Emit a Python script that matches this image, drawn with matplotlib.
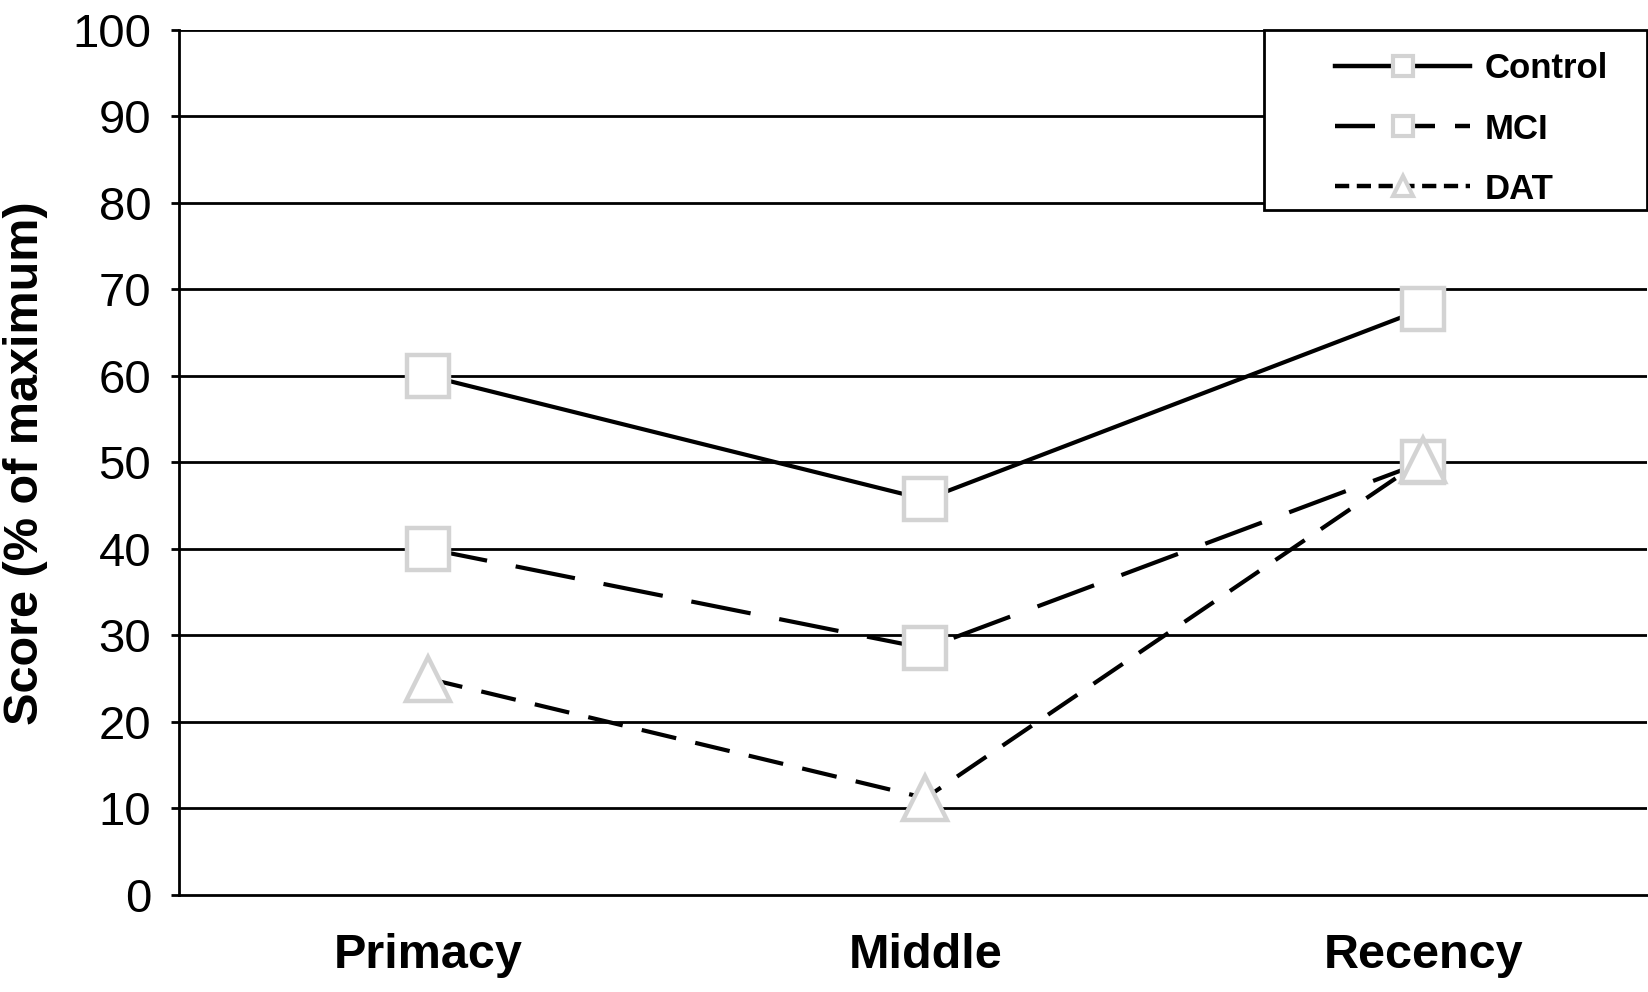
import matplotlib
matplotlib.use('Agg')
import matplotlib.pyplot as plt
from matplotlib.lines import Line2D
from matplotlib.patches import Rectangle

# ---- data ----
positions = ['Primacy', 'Middle', 'Recency']
control = [60, 45.7, 67.7]
mci = [40, 28.5, 50]
dat = [25, 11.2, 50.3]
yticks = list(range(0, 101, 10))

GREY = '#d3d3d3'
LW = 3

fig = plt.figure(figsize=(16.49, 9.92), dpi=100)
ax = fig.add_axes([179 / 1649, 97 / 992, 1468 / 1649, 865.5 / 992])

x = range(len(positions))
ax.plot(x, control, color='black', lw=LW, ls='-', zorder=3)
ax.plot(x, mci, color='black', lw=LW, ls=(0, (14.5, 7)), zorder=3)
ax.plot(x, dat, color='black', lw=LW, ls=(0, (8.5, 4.7)), zorder=3)
ax.plot(x, control, ls='none', marker='s', ms=30, mfc='white', mec=GREY, mew=3.2, zorder=4)
ax.plot(x, mci, ls='none', marker='s', ms=30, mfc='white', mec=GREY, mew=3.2, zorder=4)
ax.plot(x, dat, ls='none', marker='^', ms=31, mfc='white', mec=GREY, mew=3.2, zorder=4)

ax.set_xlim(-0.5, 2.45)
ax.set_ylim(0, 100)
ax.set_yticks(yticks)
for v in yticks[1:]:
    ax.axhline(v, color='black', lw=2, zorder=1)

ax.set_xticks(list(x))
ax.set_xticklabels(positions, fontsize=35, fontweight='bold', family='Liberation Sans')
ax.tick_params(axis='x', length=0, pad=27)
ax.tick_params(axis='y', length=6, width=2, pad=14, labelsize=34, direction='out')
for lab in ax.get_yticklabels():
    lab.set_family('Liberation Sans')

for s in ['top', 'right']:
    ax.spines[s].set_visible(False)
ax.spines['left'].set_linewidth(2)
ax.spines['bottom'].set_linewidth(2)

fig.text(26 / 1649, 0.533, 'Score (% of maximum)', rotation=90, ha='center', va='center',
         fontsize=35, fontweight='bold', family='Liberation Sans')

# legend box drawn by hand, legend itself frameless
ax.add_patch(Rectangle((0.739, 0.791), 0.261, 0.209, transform=ax.transAxes,
                       facecolor='white', edgecolor='black', lw=2, zorder=5, clip_on=False))
handles = [
    Line2D([], [], color='black', lw=3.2, ls='-', marker='s', ms=14, mfc='white', mec=GREY, mew=3),
    Line2D([], [], color='black', lw=3.2, ls=(0, (9, 4.5)), marker='s', ms=14, mfc='white', mec=GREY, mew=3),
    Line2D([], [], color='black', lw=3.2, ls=(0, (3.2, 1.7)), marker='^', ms=15, mfc='white', mec=GREY, mew=3),
]
leg = ax.legend(handles, ['Control', 'MCI', 'DAT'], loc='center left',
                bbox_to_anchor=(0.7875, 0.885), frameon=False, borderpad=0, borderaxespad=0,
                handlelength=3.9, handletextpad=0.4, labelspacing=0.78,
                prop={'family': 'Liberation Sans', 'weight': 'bold', 'size': 25})
leg.set_zorder(6)

fig.savefig('out.png', dpi=100, facecolor='white')
